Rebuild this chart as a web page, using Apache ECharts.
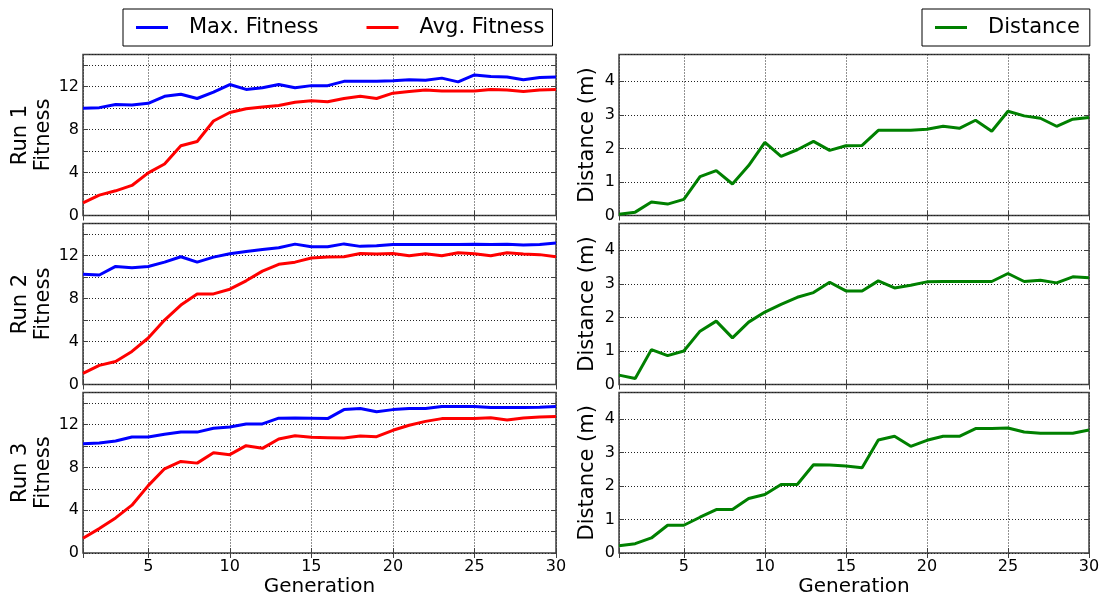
<!DOCTYPE html>
<html>
<head>
<meta charset="utf-8">
<script src="https://cdn.jsdelivr.net/npm/echarts@6/dist/echarts.min.js"></script>
<style>html,body{margin:0;padding:0;background:#fff}#c{width:1105px;height:598px}</style>
</head>
<body>
<div id="c"></div>
<script>
const generations = [1,2,3,4,5,6,7,8,9,10,11,12,13,14,15,16,17,18,19,20,21,22,23,24,25,26,27,28,29,30];
const runLabels = ['Run 1\nFitness','Run 2\nFitness','Run 3\nFitness'];
const xTickLabels = [5,10,15,20,25,30];
const fitnessTickLabels = [0,4,8,12];
const distanceTickLabels = [0,1,2,3,4];

const run1Max = [10.0,10.05,10.35,10.3,10.45,11.1,11.3,10.9,11.5,12.2,11.75,11.9,12.2,11.9,12.1,12.1,12.5,12.5,12.5,12.55,12.65,12.6,12.8,12.45,13.1,12.95,12.9,12.65,12.85,12.9];
const run1Avg = [1.18,1.9,2.3,2.8,3.97,4.8,6.5,6.9,8.8,9.6,9.95,10.1,10.25,10.55,10.7,10.6,10.9,11.1,10.9,11.4,11.55,11.7,11.6,11.6,11.6,11.75,11.7,11.55,11.7,11.75];
const run2Max = [10.28,10.2,11.0,10.87,11.0,11.4,11.9,11.4,11.87,12.18,12.4,12.58,12.74,13.08,12.83,12.83,13.1,12.87,12.93,13.05,13.05,13.05,13.05,13.05,13.07,13.05,13.07,13.0,13.05,13.18];
const run2Avg = [1.03,1.78,2.15,3.08,4.33,6.0,7.4,8.44,8.44,8.88,9.66,10.56,11.2,11.4,11.78,11.87,11.9,12.2,12.15,12.2,12.0,12.18,12.0,12.27,12.18,12.0,12.27,12.15,12.1,11.9];
const run3Max = [10.2,10.28,10.47,10.84,10.84,11.1,11.3,11.3,11.66,11.78,12.06,12.06,12.6,12.62,12.6,12.56,13.4,13.5,13.2,13.4,13.5,13.5,13.7,13.7,13.7,13.6,13.6,13.6,13.62,13.7];
const run3Avg = [1.38,2.28,3.28,4.47,6.3,7.87,8.56,8.4,9.37,9.19,10.03,9.78,10.66,10.95,10.81,10.78,10.75,10.94,10.87,11.47,11.94,12.3,12.56,12.56,12.56,12.65,12.44,12.62,12.72,12.75];
const run1Dist = [0.04,0.1,0.4,0.34,0.48,1.16,1.34,0.94,1.49,2.18,1.76,1.96,2.21,1.94,2.08,2.09,2.54,2.54,2.54,2.57,2.66,2.6,2.84,2.51,3.11,2.97,2.9,2.66,2.87,2.92];
const run2Dist = [0.28,0.18,1.04,0.86,1.0,1.59,1.89,1.39,1.86,2.16,2.39,2.6,2.74,3.05,2.79,2.79,3.09,2.88,2.96,3.06,3.07,3.07,3.07,3.07,3.31,3.07,3.11,3.03,3.21,3.18];
const run3Dist = [0.22,0.28,0.45,0.83,0.83,1.07,1.3,1.3,1.63,1.75,2.05,2.05,2.64,2.63,2.6,2.55,3.38,3.49,3.19,3.37,3.49,3.49,3.72,3.72,3.74,3.62,3.58,3.58,3.58,3.68];

const maxFit = [run1Max, run2Max, run3Max];
const avgFit = [run1Avg, run2Avg, run3Avg];
const dist = [run1Dist, run2Dist, run3Dist];

const FONT = 'DejaVu Sans';
const FRAME = '#404040';
const GRIDLINE = {type: [1, 2], color: '#222', width: 1};
const rowTops = [54.5, 223.5, 392.5];
const rowH = 161;

const grids = [], xAxes = [], yAxes = [], series = [];
function pair(arr){ return generations.map((g,i)=>[g, arr[i]]); }

for (let r = 0; r < 3; r++) {
  for (let c = 0; c < 2; c++) {
    const gi = grids.length;
    grids.push({
      left: c === 0 ? 83 : 619, width: c === 0 ? 473 : 470,
      top: rowTops[r], height: rowH,
      show: true, borderColor: FRAME, borderWidth: 1.5, backgroundColor: 'transparent'
    });
    const last = r === 2;
    xAxes.push({
      gridIndex: gi, type: 'value', min: 1, max: 30, splitNumber: 6, position: 'bottom',
      axisLine: {show: false},
      axisTick: {show: true, inside: true, length: 5, lineStyle: {color: FRAME, width: 1}},
      splitLine: {show: true, lineStyle: GRIDLINE},
      axisLabel: {show: last, fontFamily: FONT, fontSize: 16, color: '#000', margin: 6,
        formatter: v => xTickLabels.indexOf(v) >= 0 ? String(v) : ''},
      name: last ? 'Generation' : '', nameLocation: 'middle', nameGap: 24,
      nameTextStyle: {fontFamily: FONT, fontSize: 20, color: '#000'}
    });
    xAxes.push({
      gridIndex: gi, type: 'value', min: 1, max: 30, splitNumber: 6, position: 'top',
      axisLine: {show: false},
      axisTick: {show: true, inside: true, length: 5, lineStyle: {color: FRAME, width: 1}},
      splitLine: {show: false}, axisLabel: {show: false}
    });
    const isFit = c === 0;
    const yBase = isFit
      ? {min: 0, max: 15, interval: 2}
      : {min: 0, max: 4.8, interval: 1};
    const yLabels = isFit ? fitnessTickLabels : distanceTickLabels;
    yAxes.push(Object.assign({
      gridIndex: gi, type: 'value', position: 'left',
      axisLine: {show: false},
      axisTick: {show: true, inside: true, length: 5, lineStyle: {color: FRAME, width: 1}},
      splitLine: {show: true, lineStyle: GRIDLINE},
      axisLabel: {fontFamily: FONT, fontSize: 16, color: '#000', margin: 4,
        formatter: v => yLabels.indexOf(v) >= 0 ? String(v) : ''},
      name: isFit ? runLabels[r] : 'Distance (m)', nameLocation: 'middle',
      nameGap: isFit ? 27 : 20,
      nameTextStyle: {fontFamily: FONT, fontSize: 21, color: '#000', lineHeight: 23}
    }, yBase));
    yAxes.push(Object.assign({
      gridIndex: gi, type: 'value', position: 'right',
      axisLine: {show: false},
      axisTick: {show: true, inside: true, length: 5, lineStyle: {color: FRAME, width: 1}},
      splitLine: {show: false}, axisLabel: {show: false}
    }, yBase));
    const xi = gi * 2, yi = gi * 2;
    if (isFit) {
      series.push({name: 'Max. Fitness', type: 'line', xAxisIndex: xi, yAxisIndex: yi,
        data: pair(maxFit[r]), symbol: 'none', lineStyle: {color: '#0000ff', width: 3}, itemStyle: {color: '#0000ff'}});
      series.push({name: 'Avg. Fitness', type: 'line', xAxisIndex: xi, yAxisIndex: yi,
        data: pair(avgFit[r]), symbol: 'none', lineStyle: {color: '#ff0000', width: 3}, itemStyle: {color: '#ff0000'}});
    } else {
      series.push({name: 'Distance', type: 'line', xAxisIndex: xi, yAxisIndex: yi,
        data: pair(dist[r]), symbol: 'none', lineStyle: {color: '#008000', width: 3}, itemStyle: {color: '#008000'}});
    }
  }
}

const legendCommon = {
  orient: 'horizontal', icon: 'rect', itemWidth: 32, itemHeight: 3, itemGap: 48,
  borderColor: '#000', borderWidth: 1, borderRadius: 0, backgroundColor: '#fff',
  textStyle: {fontFamily: FONT, fontSize: 21, color: '#000', padding: [0, 0, 0, 16]},
  selectedMode: false
};
const option = {
  animation: false,
  backgroundColor: '#fff',
  legend: [
    Object.assign({}, legendCommon, {left: 123, top: 9, padding: [8, 8, 8, 13], data: ['Max. Fitness', 'Avg. Fitness']}),
    Object.assign({}, legendCommon, {left: 922, top: 9, padding: [8, 10, 8, 13], data: ['Distance']})
  ],
  grid: grids, xAxis: xAxes, yAxis: yAxes, series: series
};
const chart = echarts.init(document.getElementById('c'), null, {renderer: 'canvas'});
chart.setOption(option);
</script>
</body>
</html>
